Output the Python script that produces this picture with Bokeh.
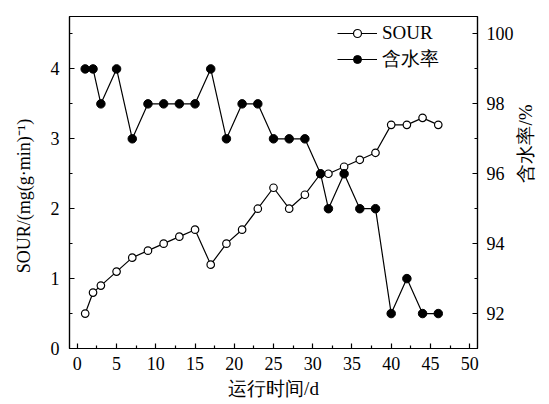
import math
from bokeh.plotting import figure
from bokeh.models import Range1d, LinearAxis, FixedTicker, Legend, LegendItem
from bokeh.embed import file_html
from bokeh.resources import INLINE

days = [1, 2, 3, 5, 7, 9, 11, 13, 15, 17, 19, 21, 23, 25, 27, 29, 31, 32, 34, 36, 38, 40, 42, 44, 46]
sour = [0.5, 0.8, 0.9, 1.1, 1.3, 1.4, 1.5, 1.6, 1.7, 1.2, 1.5, 1.7, 2.0, 2.3, 2.0, 2.2, 2.5, 2.5, 2.6, 2.7, 2.8, 3.2, 3.2, 3.3, 3.2]
water = [99, 99, 98, 99, 97, 98, 98, 98, 98, 99, 97, 98, 98, 97, 97, 97, 96, 95, 96, 95, 95, 92, 93, 92, 92]

x_major = [0, 5, 10, 15, 20, 25, 30, 35, 40, 45, 50]
x_minor = [2.5, 7.5, 12.5, 17.5, 22.5, 27.5, 32.5, 37.5, 42.5, 47.5]
yl_major = [0, 1, 2, 3, 4]
yl_minor = [0.5, 1.5, 2.5, 3.5, 4.5]
yr_major = [92, 94, 96, 98, 100]
yr_minor = [91, 93, 95, 97, 99]

SERIF = "Liberation Serif"
FS = "18px"

p = figure(width=549, height=404, output_backend="svg", toolbar_location=None,
           x_range=Range1d(-1, 51), y_range=Range1d(0, 4.75),
           min_border_left=69, min_border_right=64, min_border_top=16, min_border_bottom=56)
p.extra_y_ranges = {"w": Range1d(91, 100.5)}
p.grid.visible = False
p.outline_line_color = "black"
p.outline_line_width = 1.2
p.background_fill_color = "white"
p.border_fill_color = "white"

raxis = LinearAxis(y_range_name="w")
p.add_layout(raxis, "right")

p.xaxis.ticker = FixedTicker(ticks=x_major, minor_ticks=x_minor)
p.yaxis[0].ticker = FixedTicker(ticks=yl_major, minor_ticks=yl_minor)
raxis.ticker = FixedTicker(ticks=yr_major, minor_ticks=yr_minor)

for ax in [p.xaxis[0], p.yaxis[0], raxis]:
    ax.axis_line_color = "black"
    ax.axis_line_width = 1.2
    ax.major_tick_in = 5
    ax.major_tick_out = 0
    ax.minor_tick_in = 3
    ax.minor_tick_out = 0
    ax.major_tick_line_width = 1.2
    ax.minor_tick_line_width = 1.2
    ax.major_label_text_font = SERIF
    ax.major_label_text_font_size = FS
    ax.major_label_text_color = "black"
    ax.axis_label_text_font = SERIF
    ax.axis_label_text_font_size = "19px"
    ax.axis_label_text_font_style = "normal"
    ax.axis_label_text_color = "black"

p.xaxis.major_label_standoff = 8
p.yaxis[0].major_label_standoff = 10
raxis.major_label_standoff = 9

p.xaxis.axis_label = "运行时间/d"
p.xaxis.axis_label_standoff = 5
p.yaxis[0].axis_label = "SOUR/(mg(g·min)⁻¹)" + "\u00a0" * 6
p.yaxis[0].axis_label_standoff = 14
p.yaxis[0].axis_label_text_font_size = "18px"
raxis.axis_label = "含水率/%"
raxis.axis_label_standoff = 9
raxis.axis_label_orientation = math.pi / 2

l1 = p.line(days, sour, line_color="black", line_width=1.2)
s1 = p.scatter(days, sour, marker="circle", size=7.5, fill_color="white", line_color="black", line_width=1.2)
l2 = p.line(days, water, line_color="black", line_width=1.2, y_range_name="w")
s2 = p.scatter(days, water, marker="circle", size=8.5, fill_color="black", line_color="black", y_range_name="w")

legend = Legend(items=[LegendItem(label="SOUR", renderers=[l1, s1]),
                       LegendItem(label="含水率", renderers=[l2, s2])],
                location=(268, 276), padding=0, margin=0, spacing=2,
                glyph_width=40, glyph_height=20, label_standoff=5,
                label_text_font=SERIF, label_text_font_size="19px",
                label_text_color="black",
                border_line_color=None, background_fill_alpha=0)
p.add_layout(legend)

open("out.html", "w").write(file_html(p, INLINE))
